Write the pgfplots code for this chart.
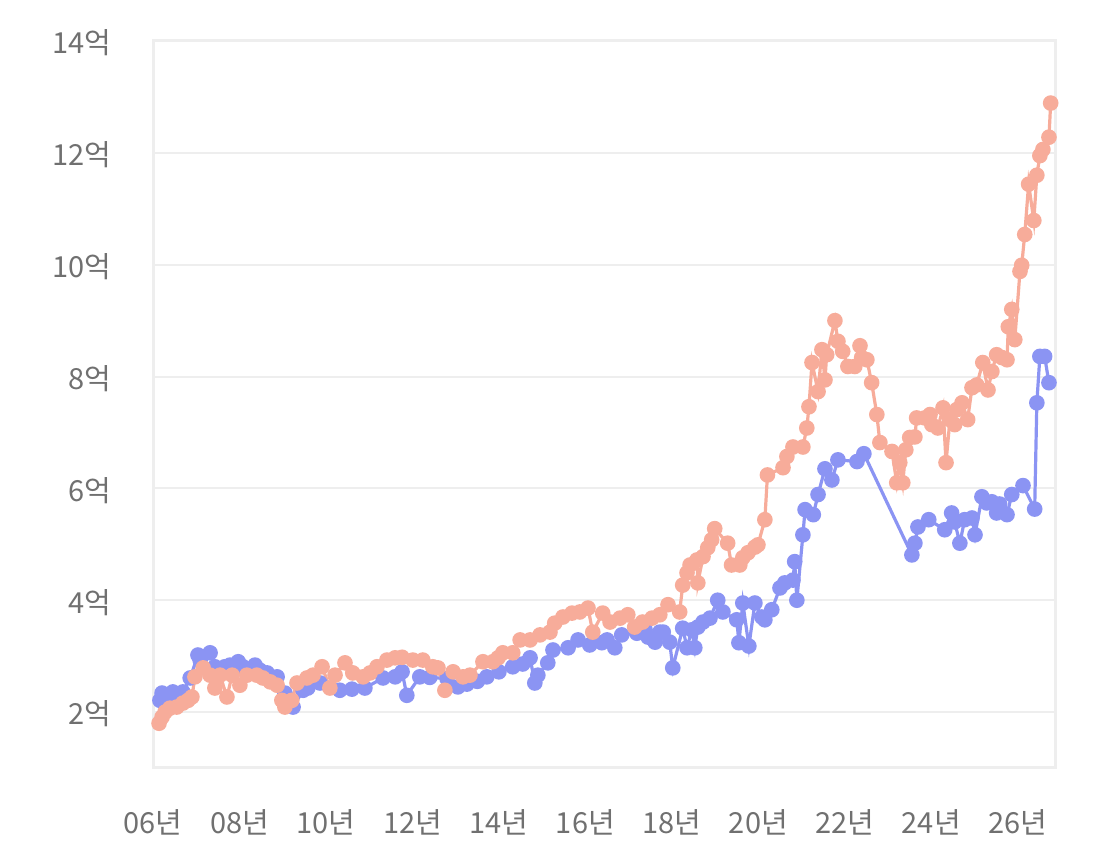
\documentclass[border=0pt]{standalone}
\usepackage{fontspec}
\setmainfont{Noto Sans CJK KR}
\usepackage{pgfplots}
\pgfplotsset{compat=1.18}
\definecolor{sblue}{RGB}{139,148,243}
\definecolor{ssal}{RGB}{247,172,154}
\definecolor{tgray}{RGB}{112,112,112}
\definecolor{grd}{RGB}{238,238,238}
\begin{document}
\begin{tikzpicture}
\path[use as bounding box] (0,0) rectangle (560pt,431pt);
\begin{axis}[
 at={(76.5pt,47pt)}, anchor=south west,
 scale only axis, width=451pt, height=363.5pt,
 xmin=6, xmax=26.86, ymin=1, ymax=14,
 xtick={6,8,10,12,14,16,18,20,22,24,26},
 xticklabels={06년,08년,10년,12년,14년,16년,18년,20년,22년,24년,26년},
 ytick={2,4,6,8,10,12,14},
 yticklabels={2억,4억,6억,8억,10억,12억,14억},
 ymajorgrids, grid style={grd, line width=1pt},
 axis line style={grd, line width=1.5pt},
 tick style={draw=none},
 ticklabel style={font=\fontsize{14.5}{17}\selectfont, text=tgray},
 yticklabel style={anchor=east, inner sep=0pt, xshift=-20.5pt, yshift=-1pt},
 xticklabel style={anchor=center, inner sep=0pt, yshift=-27pt},
]
\addplot[sblue, line width=1.6pt, mark=*, mark size=3.1pt, mark options={fill=sblue, draw=sblue}] coordinates {
(6.16,2.21)(6.21,2.34)(6.32,2.27)(6.46,2.36)(6.55,2.27)(6.69,2.36)(6.86,2.61)(7.04,3.02)(7.09,2.93)(7.32,3.06)(7.43,2.81)(7.66,2.81)(7.78,2.84)(7.97,2.90)(8.08,2.81)(8.36,2.84)(8.47,2.75)(8.64,2.70)(8.87,2.63)(9.05,2.34)(9.24,2.09)(9.47,2.39)(9.58,2.43)(9.86,2.52)(10.32,2.39)(10.60,2.41)(10.90,2.43)(11.32,2.61)(11.60,2.63)(11.76,2.72)(11.87,2.30)(12.17,2.63)(12.40,2.62)(12.80,2.60)(13.05,2.45)(13.26,2.50)(13.50,2.55)(13.72,2.63)(14.00,2.72)(14.32,2.81)(14.55,2.86)(14.72,2.97)(14.83,2.52)(14.90,2.66)(15.13,2.88)(15.25,3.11)(15.60,3.15)(15.83,3.29)(16.10,3.20)(16.38,3.24)(16.50,3.29)(16.68,3.15)(16.84,3.38)(17.19,3.41)(17.38,3.47)(17.45,3.34)(17.61,3.25)(17.72,3.43)(17.80,3.43)(17.95,3.25)(18.02,2.79)(18.25,3.50)(18.35,3.15)(18.46,3.47)(18.53,3.15)(18.60,3.52)(18.72,3.61)(18.88,3.68)(19.06,4.00)(19.18,3.79)(19.50,3.65)(19.55,3.24)(19.64,3.95)(19.78,3.18)(19.92,3.95)(20.08,3.70)(20.15,3.65)(20.31,3.83)(20.50,4.22)(20.61,4.31)(20.80,4.36)(20.84,4.69)(20.89,4.00)(21.03,5.17)(21.08,5.62)(21.27,5.53)(21.38,5.89)(21.54,6.35)(21.70,6.15)(21.84,6.51)(22.28,6.48)(22.44,6.62)(23.55,4.81)(23.62,5.02)(23.69,5.31)(23.94,5.44)(24.31,5.26)(24.47,5.56)(24.54,5.40)(24.66,5.02)(24.77,5.44)(24.94,5.47)(25.01,5.17)(25.17,5.85)(25.28,5.74)(25.40,5.76)(25.51,5.56)(25.58,5.72)(25.75,5.53)(25.86,5.89)(26.12,6.05)(26.39,5.63)(26.44,7.53)(26.51,8.36)(26.62,8.36)(26.72,7.89)
};
\addplot[ssal, line width=1.6pt, mark=*, mark size=3.1pt, mark options={fill=ssal, draw=ssal}] coordinates {
(6.14,1.80)(6.21,1.91)(6.28,2.00)(6.39,2.07)(6.55,2.09)(6.69,2.16)(6.81,2.21)(6.90,2.27)(6.97,2.63)(7.16,2.79)(7.32,2.66)(7.43,2.43)(7.55,2.66)(7.71,2.27)(7.83,2.66)(8.01,2.48)(8.17,2.66)(8.40,2.66)(8.54,2.61)(8.71,2.54)(8.87,2.48)(8.98,2.21)(9.05,2.09)(9.21,2.21)(9.33,2.52)(9.56,2.61)(9.70,2.66)(9.91,2.81)(10.09,2.43)(10.21,2.66)(10.44,2.88)(10.62,2.70)(10.86,2.63)(11.02,2.70)(11.18,2.81)(11.41,2.93)(11.60,2.97)(11.76,2.98)(12.01,2.93)(12.24,2.93)(12.47,2.81)(12.59,2.79)(12.75,2.39)(12.94,2.72)(13.17,2.63)(13.33,2.66)(13.63,2.90)(13.86,2.90)(13.98,2.97)(14.09,3.06)(14.32,3.06)(14.49,3.29)(14.72,3.29)(14.95,3.38)(15.18,3.43)(15.29,3.59)(15.48,3.70)(15.69,3.77)(15.87,3.79)(16.06,3.86)(16.17,3.43)(16.40,3.77)(16.57,3.61)(16.80,3.68)(16.98,3.74)(17.14,3.52)(17.32,3.61)(17.54,3.68)(17.72,3.74)(17.91,3.92)(18.18,3.79)(18.25,4.27)(18.35,4.49)(18.42,4.63)(18.58,4.72)(18.60,4.31)(18.72,4.78)(18.83,4.94)(18.92,5.08)(18.99,5.28)(19.29,5.02)(19.38,4.63)(19.57,4.63)(19.64,4.76)(19.76,4.85)(19.92,4.95)(19.99,4.99)(20.15,5.44)(20.21,6.24)(20.57,6.37)(20.66,6.57)(20.80,6.74)(21.03,6.74)(21.12,7.08)(21.17,7.46)(21.24,8.25)(21.38,7.73)(21.47,8.48)(21.54,7.94)(21.58,8.39)(21.77,9.00)(21.84,8.63)(21.95,8.45)(22.07,8.18)(22.23,8.18)(22.35,8.55)(22.39,8.34)(22.51,8.30)(22.62,7.89)(22.74,7.32)(22.81,6.82)(23.09,6.66)(23.20,6.10)(23.27,6.46)(23.34,6.10)(23.41,6.69)(23.50,6.91)(23.62,6.92)(23.66,7.26)(23.85,7.26)(23.97,7.32)(24.01,7.14)(24.15,7.08)(24.27,7.44)(24.34,6.46)(24.43,7.23)(24.54,7.14)(24.59,7.41)(24.71,7.53)(24.84,7.23)(24.94,7.80)(25.05,7.85)(25.19,8.25)(25.31,7.76)(25.40,8.09)(25.51,8.39)(25.63,8.34)(25.75,8.30)(25.78,8.89)(25.86,9.20)(25.93,8.66)(26.05,9.88)(26.09,9.99)(26.16,10.54)(26.25,11.44)(26.37,10.79)(26.44,11.60)(26.51,11.95)(26.58,12.06)(26.72,12.28)(26.76,12.89)
};
\end{axis}
\end{tikzpicture}
\end{document}
